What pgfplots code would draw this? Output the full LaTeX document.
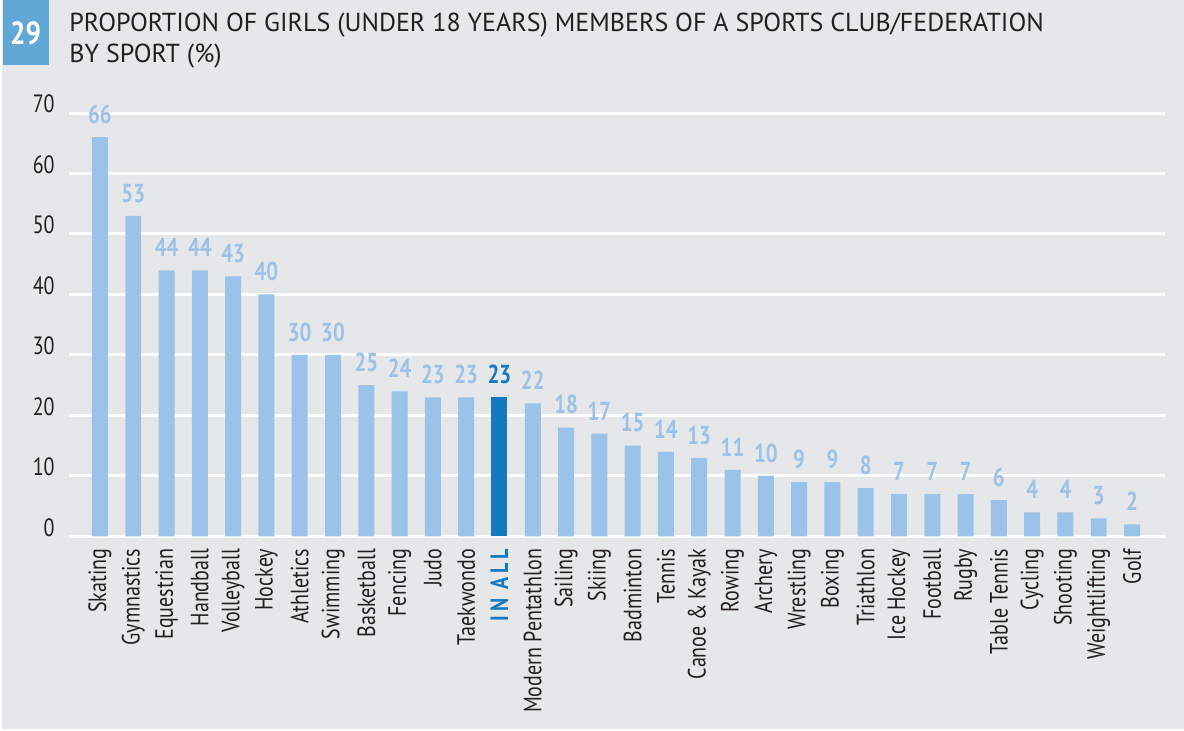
\documentclass[border=0pt]{standalone}
\usepackage{fontspec}
\setmainfont{PT Sans}[FakeStretch=0.8]
\newfontfamily\titlefont{PT Sans}
\newfontfamily\labfont{PT Sans}[FakeStretch=0.8]
\newfontfamily\numfont{PT Sans}[FakeStretch=0.85]
\usepackage{pgfplots}
\pgfplotsset{compat=1.18}
\definecolor{bgc}{HTML}{E6E7E8}
\definecolor{barc}{HTML}{9BC2E8}
\definecolor{inall}{HTML}{1479C1}
\definecolor{boxc}{HTML}{62A8D6}
\definecolor{txt}{HTML}{231F20}
\begin{document}
\begin{tikzpicture}
\fill[white] (0,0) rectangle (592pt,365.5pt);
\fill[bgc] (1pt,1pt) rectangle (592pt,365.5pt);
\useasboundingbox (0,0) rectangle (592pt,365.5pt);
\fill[boxc] (1.5pt,365.5pt) rectangle (24.5pt,333pt);
\node[anchor=center,text=white,font=\numfont\fontsize{16}{18}\selectfont\bfseries] at (12.8pt,349pt) {29};
\node[anchor=base west,inner sep=0pt,text=txt,font=\titlefont\fontsize{13}{16}\selectfont] at (34.5pt,349.5pt)
 {PROPORTION OF GIRLS (UNDER 18 YEARS) MEMBERS OF A SPORTS CLUB/FEDERATION};
\node[anchor=base west,inner sep=0pt,text=txt,font=\titlefont\fontsize{13}{16}\selectfont] at (34.5pt,334pt)
 {BY SPORT (\%)};
\begin{axis}[
  at={(34.5pt,97.25pt)}, anchor=south west,
  scale only axis, width=548pt, height=211.75pt,
  ymin=0, ymax=70, ytick={0,10,...,70},
  xmin=-0.93, xmax=31.99,
  axis line style={draw=none},
  ymajorgrids, grid style={white,line width=1.5pt},
  major tick length=0pt,
  ybar, bar shift=0pt, bar width=0.48,
  /pgf/number format/assume math mode=true,
  yticklabel style={anchor=base east,inner sep=0pt,xshift=-7pt,yshift=0pt,text=txt,font=\fontsize{12.5}{14}\selectfont},
  xtick={0,...,31},
  xticklabel style={rotate=90,anchor=east,inner sep=0pt,xshift=-6pt,text=txt,font=\labfont\fontsize{12.5}{15}\selectfont},
  xticklabels={Skating,Gymnastics,Equestrian,Handball,Volleyball,Hockey,Athletics,Swimming,Basketball,Fencing,Judo,Taekwondo,{\textcolor{inall}{\bfseries I\,N\,\,A\,L\,L}},Modern Pentathlon,Sailing,Skiing,Badminton,Tennis,Canoe \& Kayak,Rowing,Archery,Wrestling,Boxing,Triathlon,Ice Hockey,Football,Rugby,Table Tennis,Cycling,Shooting,Weightlifting,Golf},
  nodes near coords,
  every node near coord/.append style={inner sep=0pt,yshift=6.5pt,font=\fontsize{13}{15}\selectfont\bfseries,/pgf/number format/fixed,/pgf/number format/precision=0},
  clip=false,
]
\addplot[fill=barc,draw=none,every node near coord/.append style={text=barc}] coordinates {
(0,66) (1,53) (2,44) (3,44) (4,43) (5,40) (6,30) (7,30) (8,25) (9,24) (10,23) (11,23)
(13,22) (14,18) (15,17) (16,15) (17,14) (18,13) (19,11) (20,10) (21,9) (22,9) (23,8)
(24,7) (25,7) (26,7) (27,6) (28,4) (29,4) (30,3) (31,2)};
\addplot[fill=inall,draw=none,every node near coord/.append style={text=inall}] coordinates {(12,23)};
\end{axis}
\end{tikzpicture}
\end{document}
